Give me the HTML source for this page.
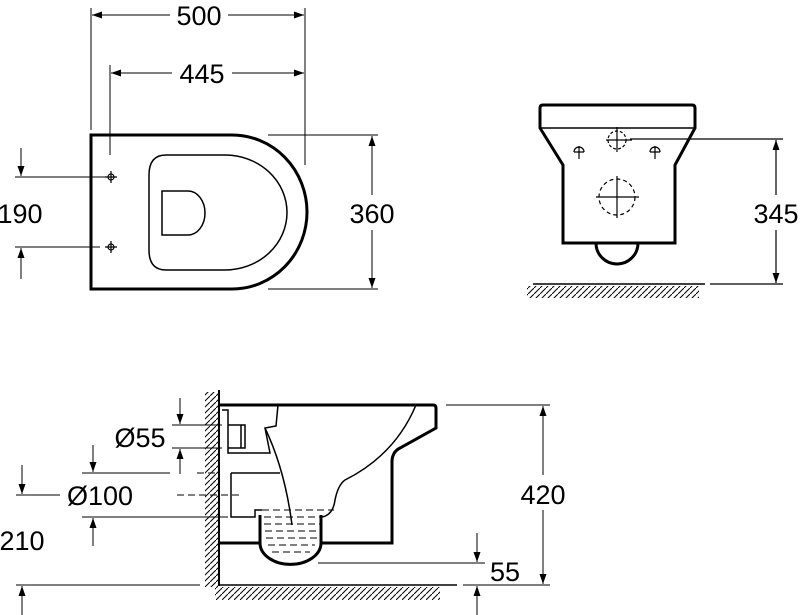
<!DOCTYPE html>
<html><head><style>body{margin:0;background:#fff}svg{display:block}</style></head><body>
<svg width="800" height="615" viewBox="0 0 800 615" xmlns="http://www.w3.org/2000/svg" font-family="Liberation Sans, sans-serif" fill="none" stroke="#000">
<defs>
<marker id="a" viewBox="0 0 10 10" refX="10" refY="5" markerWidth="10" markerHeight="10" markerUnits="userSpaceOnUse" orient="auto"><path d="M0,1.5 L10,5 L0,8.5 Z" fill="#000" stroke="none"/></marker>
<pattern id="h" width="6" height="6" patternUnits="userSpaceOnUse"><path d="M-1,7 L7,-1" stroke="#000" stroke-width="1"/></pattern>
</defs>
<g stroke-width="1">
<line x1="91" y1="8" x2="91" y2="130"/><line x1="305" y1="8" x2="305" y2="165"/>
<line x1="170" y1="15" x2="92" y2="15" marker-end="url(#a)"/><line x1="228" y1="15" x2="304" y2="15" marker-end="url(#a)"/>
<line x1="110" y1="65" x2="110" y2="155"/>
<line x1="172" y1="73" x2="111" y2="73" marker-end="url(#a)"/><line x1="232" y1="73" x2="304" y2="73" marker-end="url(#a)"/>
<line x1="268" y1="135" x2="378" y2="135"/><line x1="268" y1="289" x2="378" y2="289"/>
<line x1="372" y1="195" x2="372" y2="136" marker-end="url(#a)"/><line x1="372" y1="230" x2="372" y2="288" marker-end="url(#a)"/>
<line x1="15" y1="177" x2="105" y2="177"/><line x1="15" y1="247" x2="100" y2="247"/>
<line x1="21" y1="148" x2="21" y2="176" marker-end="url(#a)"/><line x1="21" y1="279" x2="21" y2="248" marker-end="url(#a)"/>
</g>
<path d="M91,135 H232 A75,77 0 0 1 232,289 H91 Z" stroke-width="3"/>
<path d="M166,155 H225 A62,57.5 0 0 1 225,270 H166 Q149,270 149,250 V175 Q149,155 166,155 Z" stroke-width="1.5"/>
<path d="M162,191 H188 A17,22 0 0 1 188,235 H162 Z" stroke-width="1.5"/>
<g stroke-width="1.2"><circle cx="111" cy="177" r="3"/><path d="M105,177H117M111,171V183"/><circle cx="111" cy="247" r="3"/><path d="M105,247H117M111,241V253"/></g>
<g font-size="27" fill="#000" stroke="none" text-anchor="middle">
<text x="199" y="25">500</text><text x="202" y="83">445</text><text x="372" y="223">360</text><text x="20" y="223">190</text>
<text x="776" y="223">345</text><text x="543" y="504">420</text><text x="140" y="447">Ø55</text><text x="100" y="505">Ø100</text><text x="22" y="550">210</text><text x="505" y="581">55</text>
</g>
<path d="M543,105 H692 Q695,105 695,108 V128 L675,165 V243 H563 V165 L540,128 V108 Q540,105 543,105 Z" stroke-width="3"/>
<line x1="540" y1="128" x2="695" y2="128" stroke-width="1.5"/>
<path d="M596,243 A21,21 0 0 0 638,243" stroke-width="3"/>
<g stroke-width="1.2">
<circle cx="617" cy="140" r="9" stroke-dasharray="3,2"/><path d="M606,140H632M617,127V152"/>
<circle cx="617" cy="197" r="18" stroke-dasharray="4,3"/><path d="M596,197H639M617,176V218"/>
<path d="M574,152 A5,5 0 0 1 584,152 M574,152H584M579,146V159"/><path d="M650,152 A5,5 0 0 1 660,152 M650,152H660M655,146V159"/>
<line x1="630" y1="139" x2="783" y2="139"/><line x1="710" y1="284" x2="783" y2="284"/>
<line x1="776" y1="195" x2="776" y2="140" marker-end="url(#a)"/><line x1="776" y1="230" x2="776" y2="283" marker-end="url(#a)"/>
<line x1="533" y1="284" x2="705" y2="284" stroke-width="1.5"/>
</g>
<rect x="527" y="286" width="172" height="12" fill="url(#h)" stroke="none"/>
<rect x="205" y="392" width="13" height="195" fill="url(#h)" stroke="none"/>
<rect x="215" y="587" width="225" height="13" fill="url(#h)" stroke="none"/>
<line x1="219" y1="390" x2="219" y2="586" stroke-width="2"/>
<line x1="219" y1="585" x2="457" y2="585" stroke-width="1.5"/>
<path d="M219,405 H433 Q436,405 436,408 V428 L400,448 Q392,452 392,462 V543 H321 M260,543 H219" stroke-width="3"/>
<path d="M260,543 A30,21 0 0 0 321,543 M260,515 V543 M321,515 V543" stroke-width="3"/>
<g stroke-width="1.5">
<path d="M222,410 H228 V453 H270 L265,428 L276,426 L278,405"/>
<path d="M228,425 H245 V448 H228 M241,425 V448"/>
<path d="M231,473 H280 M231,473 V517 H255 V510 H262"/>
<path d="M265,428 Q285,470 292,525"/>
<path d="M416,405 Q395,455 345,480 Q338,485 335,500 Q333,515 322,517"/>
</g>
<g stroke-width="1" stroke-dasharray="7,4">
<path d="M262,510 H334 M264,517 H323 M264,524 H320 M265,531 H318 M266,538 H318 M268,545 H315 M272,552 H310"/>
<path d="M177,495 H243"/><path d="M197,473 H220"/>
</g>
<g stroke-width="1">
<line x1="172" y1="425" x2="222" y2="425"/><line x1="172" y1="448" x2="222" y2="448"/>
<line x1="180" y1="398" x2="180" y2="424" marker-end="url(#a)"/><line x1="180" y1="474" x2="180" y2="449" marker-end="url(#a)"/>
<line x1="82" y1="473" x2="170" y2="473"/><line x1="82" y1="517" x2="228" y2="517"/>
<line x1="93" y1="445" x2="93" y2="472" marker-end="url(#a)"/><line x1="93" y1="546" x2="93" y2="518" marker-end="url(#a)"/>
<line x1="16" y1="495" x2="60" y2="495"/><line x1="22" y1="465" x2="22" y2="494" marker-end="url(#a)"/>
<line x1="16" y1="585" x2="200" y2="585"/><line x1="22" y1="615" x2="22" y2="586" marker-end="url(#a)"/>
<line x1="446" y1="405" x2="550" y2="405"/><line x1="463" y1="585" x2="550" y2="585"/>
<line x1="543" y1="475" x2="543" y2="406" marker-end="url(#a)"/><line x1="543" y1="510" x2="543" y2="584" marker-end="url(#a)"/>
<line x1="318" y1="563" x2="485" y2="563"/>
<line x1="477" y1="533" x2="477" y2="562" marker-end="url(#a)"/><line x1="477" y1="615" x2="477" y2="586" marker-end="url(#a)"/>
</g>
</svg>
</body></html>
